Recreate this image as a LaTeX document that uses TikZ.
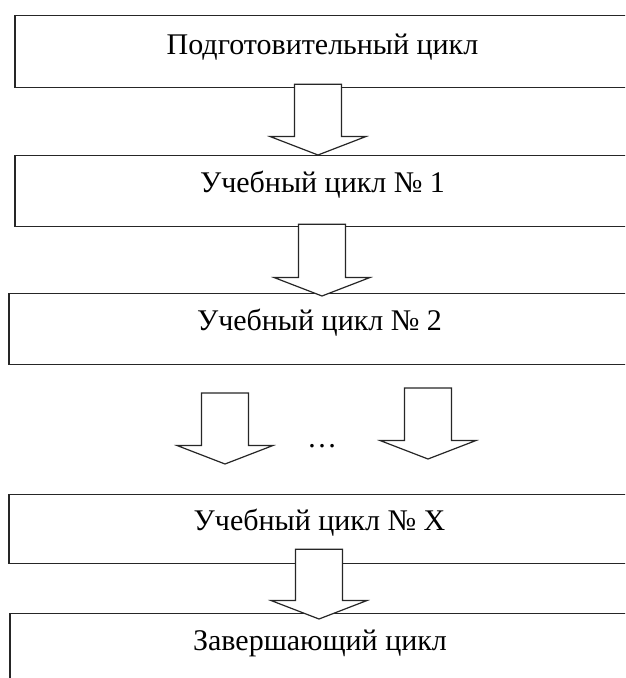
\documentclass[tikz,border=0pt]{standalone}
\usepackage{fontspec}
\setmainfont{Liberation Serif}
\usetikzlibrary{calc}

\tikzset{
  cycbox/.style={draw=black!85, line width=0.6pt, inner ysep=0pt, anchor=north,
    font=\fontsize{15}{18}\selectfont},
  barrow/.style={draw=black!85, fill=white, line width=0.6pt, line join=miter}
}

% block arrow: top edge at the y of #1, tip at #2
\newcommand{\blockarrow}[2]{%
  \draw[barrow] let \p1=#1, \p2=#2 in
    (\x2-11.75pt,\y1) -- (\x2+11.75pt,\y1) -- (\x2+11.75pt,\y2+9.25pt)
    -- (\x2+24pt,\y2+9.25pt) -- (\p2) -- (\x2-24pt,\y2+9.25pt)
    -- (\x2-11.75pt,\y2+9.25pt) -- cycle;}

\begin{document}
\begin{tikzpicture}[x=0.5pt,y=-0.5pt]
    \useasboundingbox (0,0) rectangle (625,678);
    \clip (0,0) rectangle (625,678);

    \node[cycbox, minimum width=307.5pt, text height=19.5pt, text depth=16.5pt] (b1) at (322.5,15) {Подготовительный цикл};
    \node[cycbox, minimum width=307.5pt, text height=18.5pt, text depth=17pt] (b2) at (322.5,155) {Учебный цикл № 1};
    \node[cycbox, minimum width=310.5pt, text height=18.5pt, text depth=17pt] (b3) at (319.5,293) {Учебный цикл № 2};
    \node[cycbox, minimum width=310.5pt, text height=18pt, text depth=16.5pt] (b4) at (319.5,494) {Учебный цикл № X};
    \node[cycbox, minimum width=310pt, text height=18.5pt, text depth=31pt] (b5) at (320,613) {Завершающий цикл};

    \coordinate (l1) at (225,393);
    \coordinate (l2) at (225,464);
    \coordinate (r1) at (428,388);
    \coordinate (r2) at (428,459);
    \node[font=\fontsize{15}{18}\selectfont, anchor=base] (dots) at (322,447) {…};

    \blockarrow{($(b1.south)+(0,-4)$)}{($(b2.north)+(-4.5,0)$)}
    \blockarrow{($(b2.south)+(0,-3)$)}{($(b3.north)+(2.5,3)$)}
    \blockarrow{(l1)}{(l2)}
    \blockarrow{(r1)}{(r2)}
    \blockarrow{($(b4.south)+(0,-15)$)}{($(b5.north)+(-1,6)$)}

\end{tikzpicture}
\end{document}
